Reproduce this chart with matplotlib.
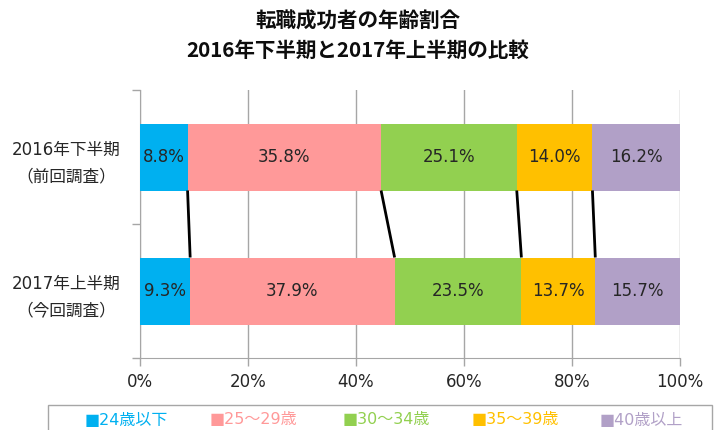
import matplotlib
matplotlib.use("Agg")
import matplotlib.pyplot as plt
import numpy as np
from matplotlib.patches import Rectangle

plt.rcParams['font.family'] = ['DejaVu Sans', 'Noto Sans CJK JP']

title = "転職成功者の年齢割合\n2016年下半期と2017年上半期の比較"
categories = ["2016年下半期\n（前回調査）", "2017年上半期\n（今回調査）"]
series_names = ["24歳以下", "25～29歳", "30～34歳", "35～39歳", "40歳以上"]
colors = ["#00B0F0", "#FF9999", "#92D050", "#FFC000", "#B1A0C7"]
values_2016 = [8.8, 35.8, 25.1, 14.0, 16.2]
values_2017 = [9.3, 37.9, 23.5, 13.7, 15.7]
xticks = [0, 20, 40, 60, 80, 100]
xticklabels = ["0%", "20%", "40%", "60%", "80%", "100%"]

data = np.array([values_2016, values_2017])
norm = data / data.sum(axis=1, keepdims=True) * 100

fig = plt.figure(figsize=(7.15, 4.30), dpi=100)
ax = fig.add_axes([140/715, 1-358/430, 540/715, 268/430])

ypos = np.arange(len(categories))
h = 0.5
left = np.zeros(len(categories))
for i, name in enumerate(series_names):
    bars = ax.barh(ypos, norm[:, i], left=left, height=h, color=colors[i],
                   label=name, zorder=3)
    ax.bar_label(bars, labels=[f"{v:.1f}%" for v in data[:, i]],
                 label_type='center', fontsize=12, color='#262626')
    left = left + norm[:, i]

cum = np.cumsum(norm, axis=1)
for j in range(len(series_names) - 1):
    ax.plot([cum[0, j], cum[1, j]], [ypos[0] + h/2, ypos[1] - h/2],
            color='black', lw=2, zorder=4, solid_capstyle='butt')

ax.set_xlim(0, 100)
ax.set_ylim(1.5, -0.5)
ax.set_xticks(xticks, labels=xticklabels)
ax.set_yticks(ypos, labels=categories)
ax.set_yticks([-0.5, 0.5, 1.5], minor=True)
ax.tick_params(axis='y', which='major', length=0, pad=53, labelsize=12,
               labelcolor='#262626')
for lab in ax.get_yticklabels():
    lab.set_ha('center')
    lab.set_linespacing(1.6)
ax.tick_params(axis='y', which='minor', length=6, color='#A6A6A6', width=1)
ax.tick_params(axis='x', length=6, color='#A6A6A6', width=1, labelsize=12,
               labelcolor='#262626', pad=5)
ax.grid(axis='x', color='#A6A6A6', lw=1, zorder=0)
for s in ['top', 'right']:
    ax.spines[s].set_visible(False)
for s in ['left', 'bottom']:
    ax.spines[s].set_color('#A6A6A6')

fig.text(0.5, 1-36/430, title, ha='center', va='center', fontsize=14.8,
         fontweight='bold', linespacing=1.5, color='#0D0D0D',
         family=['Noto Sans CJK JP', 'DejaVu Sans'])

# legend box
fig.patches.append(Rectangle((48/715, -0.05), 664/715, 0.05 + (430-405)/430,
                             transform=fig.transFigure, fill=False,
                             edgecolor='#A6A6A6', lw=1))
leg_x = [85, 210, 343, 472, 600]
for x, name, c in zip(leg_x, series_names, colors):
    fig.text(x/715, 1-420/430, "■" + name, color=c, fontsize=11.5,
             ha='left', va='center')

fig.savefig("out.png", dpi=100)
